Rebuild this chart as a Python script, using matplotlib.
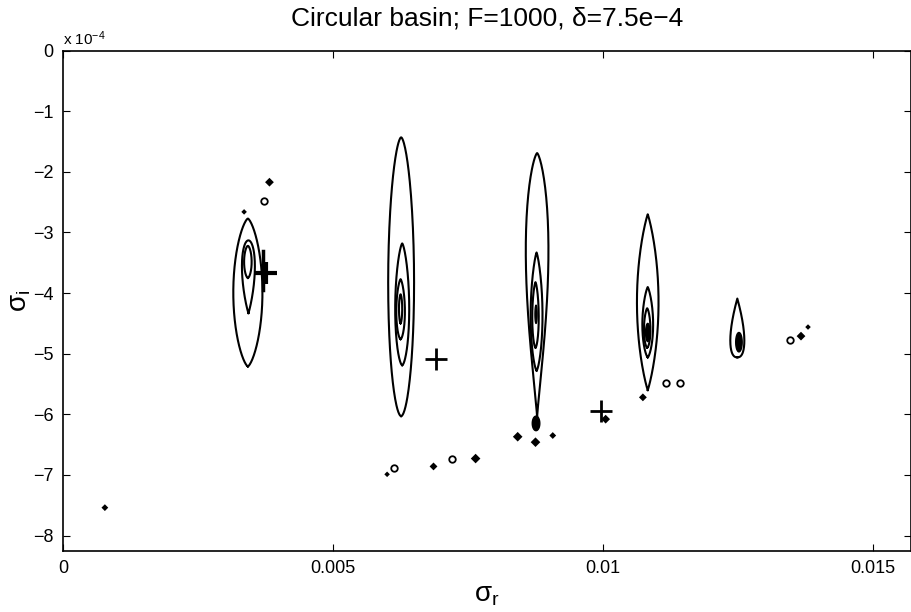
import numpy as np
import matplotlib
matplotlib.use("Agg")
from matplotlib import pyplot as plt

plt.rcParams['font.family'] = ['Liberation Sans', 'DejaVu Sans']
plt.rcParams['mathtext.fontset'] = 'custom'
plt.rcParams['mathtext.rm'] = 'Liberation Sans'
plt.rcParams['mathtext.it'] = 'Liberation Sans'

# contour rings (sigma_r, sigma_i in units of 1e-4)
ring_x = [0.00342, 0.00343, 0.00342,
          0.00626, 0.00628, 0.00625, 0.00625,
          0.00878, 0.00877, 0.00875,
          0.01083, 0.01083, 0.01082,
          0.01249]
ring_top = [-2.77, -3.13, -3.22,
            -1.43, -3.18, -3.77, -4.02,
            -1.69, -3.33, -3.82,
            -2.70, -3.90, -4.25,
            -4.09]
ring_bot = [-5.21, -4.33, -3.75,
            -6.03, -5.19, -4.76, -4.50,
            -6.05, -5.28, -4.90,
            -5.60, -5.06, -4.90,
            -5.06]
ring_hw = [0.00027, 0.00012, 0.00007,
           0.00024, 0.00013, 0.00008, 0.00003,
           0.00021, 0.00011, 0.00006,
           0.00020, 0.00010, 0.00006,
           0.00013]
# bluntness of bottom / top end of each ring
ring_a = [0.7, 0.9, 0.6,
          0.55, 0.6, 0.6, 0.6,
          1.2, 0.7, 0.6,
          0.9, 0.7, 0.6,
          0.4]
ring_b = [0.7, 0.5, 0.6,
          0.6, 0.7, 0.7, 0.6,
          0.7, 0.8, 0.7,
          0.9, 0.8, 0.7,
          1.0]

# small filled cores (x, y, half width, half height)
core_x = [0.00876, 0.01083, 0.01252, 0.00876]
core_y = [-4.35, -4.65, -4.81, -6.15]
core_hw = [0.00002, 0.00004, 0.00006, 0.00007]
core_hh = [0.15, 0.15, 0.16, 0.12]

# little islands
dot_x = [0.00382, 0.00335, 0.00842, 0.00875, 0.00907, 0.00600, 0.00686,
         0.00764, 0.01074, 0.01005, 0.01367, 0.01380, 0.00077]
dot_y = [-2.17, -2.66, -6.37, -6.46, -6.35, -6.99, -6.86,
         -6.73, -5.72, -6.08, -4.71, -4.56, -7.54]
dot_s = [5, 2, 6, 6, 3, 2, 4, 6, 4, 5, 5, 2, 3]
ring_dot_x = [0.00372, 0.00612, 0.00720, 0.01117, 0.01143, 0.01347]
ring_dot_y = [-2.48, -6.88, -6.73, -5.49, -5.49, -4.78]

# crosses
plus_x = [0.00376, 0.00691, 0.00996]
plus_y = [-3.67, -5.08, -5.95]
plus_w = [3.0, 2.0, 2.0]

fig = plt.figure(figsize=(9.11, 6.12), dpi=100)
ax = fig.add_axes([0.0695, 0.1002, 0.930, 0.817])

u = np.linspace(0, np.pi, 120)
s = (1 - np.cos(u)) / 2
for xc, yt, yb, hw, a, b in zip(ring_x, ring_top, ring_bot, ring_hw, ring_a, ring_b):
    prof = s**a * (1 - s)**b
    prof = prof / prof.max()
    ys = yb + (yt - yb) * s
    xs = np.concatenate([xc + hw * prof, (xc - hw * prof)[::-1]])
    ax.plot(xs, np.concatenate([ys, ys[::-1]]), color='black', lw=1.5)

tt = np.linspace(0, 2 * np.pi, 60)
for xc, yc, hw, hh in zip(core_x, core_y, core_hw, core_hh):
    ax.fill(xc + hw * np.cos(tt), yc + hh * np.sin(tt), color='black')

ax.scatter(dot_x, dot_y, s=np.array(dot_s) * 4, marker='D', color='black', lw=0)
ax.scatter(ring_dot_x, ring_dot_y, s=22, marker='o', facecolor='white',
           edgecolor='black', lw=1.3)

for px, py, w in zip(plus_x, plus_y, plus_w):
    ax.plot(px, py, marker='+', color='black', ms=16, mew=w)
# heavy edge next to the first cross
ax.plot([0.00370, 0.00370], [-3.30, -3.95], color='black', lw=2.5)

ax.set_xlim(0, 0.0157)
ax.set_ylim(-8.25, 0)
ax.set_xticks([0, 0.005, 0.01, 0.015])
ax.set_xticklabels(['0', '0.005', '0.01', '0.015'])
ax.set_yticks(range(-8, 1))
ax.tick_params(direction='in', length=5, top=True, right=True, labelsize=13, pad=7)
for sp in ax.spines.values():
    sp.set_linewidth(1.2)

ax.text(0.0, 1.012, r'x 10$^{-4}$', transform=ax.transAxes, fontsize=11)
ax.set_title('Circular basin; F=1000, δ=7.5e\u22124', fontsize=19, pad=18)
ax.set_xlabel(r'σ$_\mathrm{r}$', fontsize=20, labelpad=0)
ax.set_ylabel(r'σ$_\mathrm{i}$', fontsize=20)
ax.xaxis.set_label_coords(0.5, -0.062)
ax.yaxis.set_label_coords(-0.036, 0.5)

fig.savefig('out.png', dpi=100)
